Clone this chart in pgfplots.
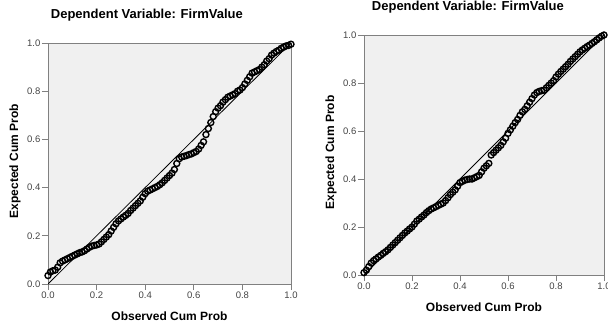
\documentclass[border=0pt]{standalone}
\usepackage{fontspec}
\setmainfont{Liberation Sans}
\usepackage{pgfplots}
\pgfplotsset{compat=1.18}
\usepackage{pgfplotstable}
\definecolor{bgc}{HTML}{F0F0F0}
\definecolor{axc}{HTML}{808080}
\definecolor{tkc}{HTML}{444444}

\pgfplotstableread{
x y
0.00 0.035
0.01 0.05
0.02 0.055
0.03 0.058
0.04 0.07
0.05 0.088
0.06 0.095
0.07 0.10
0.08 0.105
0.09 0.11
0.10 0.115
0.11 0.12
0.12 0.125
0.13 0.13
0.14 0.133
0.15 0.138
0.16 0.145
0.17 0.152
0.18 0.157
0.19 0.16
0.20 0.162
0.21 0.166
0.22 0.175
0.23 0.185
0.24 0.195
0.25 0.205
0.26 0.22
0.27 0.235
0.28 0.25
0.29 0.262
0.30 0.27
0.31 0.278
0.32 0.285
0.33 0.293
0.34 0.305
0.35 0.315
0.36 0.325
0.37 0.335
0.38 0.345
0.39 0.36
0.40 0.375
0.41 0.385
0.42 0.39
0.43 0.395
0.44 0.40
0.45 0.405
0.46 0.412
0.47 0.42
0.48 0.43
0.49 0.44
0.50 0.45
0.51 0.46
0.52 0.475
0.53 0.50
0.54 0.52
0.55 0.527
0.56 0.53
0.57 0.533
0.58 0.537
0.59 0.54
0.60 0.545
0.61 0.55
0.62 0.56
0.63 0.575
0.64 0.59
0.65 0.62
0.66 0.645
0.67 0.67
0.68 0.695
0.69 0.715
0.70 0.73
0.71 0.74
0.72 0.755
0.73 0.765
0.74 0.775
0.75 0.78
0.76 0.785
0.77 0.79
0.78 0.80
0.79 0.805
0.80 0.815
0.81 0.83
0.82 0.845
0.83 0.86
0.84 0.875
0.85 0.88
0.86 0.885
0.87 0.89
0.88 0.90
0.89 0.91
0.90 0.925
0.91 0.935
0.92 0.95
0.93 0.958
0.94 0.965
0.95 0.97
0.96 0.978
0.97 0.983
0.98 0.988
0.99 0.99
1.00 0.995
}\leftdata

\pgfplotstableread{
x y
0.00 0.01
0.01 0.02
0.02 0.035
0.03 0.05
0.04 0.06
0.05 0.067
0.06 0.075
0.07 0.082
0.08 0.09
0.09 0.097
0.10 0.105
0.11 0.115
0.12 0.125
0.13 0.135
0.14 0.145
0.15 0.155
0.16 0.165
0.17 0.175
0.18 0.183
0.19 0.192
0.20 0.20
0.21 0.212
0.22 0.225
0.23 0.233
0.24 0.242
0.25 0.25
0.26 0.26
0.27 0.268
0.28 0.275
0.29 0.28
0.30 0.285
0.31 0.29
0.32 0.295
0.33 0.30
0.34 0.31
0.35 0.322
0.36 0.335
0.37 0.345
0.38 0.355
0.39 0.37
0.40 0.385
0.41 0.39
0.42 0.395
0.43 0.398
0.44 0.40
0.45 0.40
0.46 0.405
0.47 0.41
0.48 0.415
0.49 0.43
0.50 0.445
0.51 0.455
0.52 0.465
0.53 0.50
0.54 0.51
0.55 0.52
0.56 0.53
0.57 0.54
0.58 0.555
0.59 0.57
0.60 0.59
0.61 0.605
0.62 0.62
0.63 0.635
0.64 0.648
0.65 0.665
0.66 0.68
0.67 0.69
0.68 0.705
0.69 0.72
0.70 0.735
0.71 0.75
0.72 0.76
0.73 0.765
0.74 0.768
0.75 0.77
0.76 0.78
0.77 0.79
0.78 0.80
0.79 0.81
0.80 0.825
0.81 0.837
0.82 0.848
0.83 0.858
0.84 0.868
0.85 0.878
0.86 0.89
0.87 0.90
0.88 0.91
0.89 0.92
0.90 0.93
0.91 0.938
0.92 0.945
0.93 0.952
0.94 0.958
0.95 0.965
0.96 0.972
0.97 0.98
0.98 0.988
0.99 0.995
1.00 1.0
}\rightdata

\pgfplotsset{
  ppstyle/.style={
    scale only axis,
    xmin=0, xmax=1, ymin=0, ymax=1,
    xtick={0,0.2,0.4,0.6,0.8,1.0},
    ytick={0,0.2,0.4,0.6,0.8,1.0},
    tick pos=left,
    tick align=outside,
    major tick length=6pt,
    tick style={axc, line width=0.9pt},
    axis line style={axc, line width=0.9pt},
    axis background/.style={fill=bgc},
    /pgf/number format/assume math mode=true,
    /pgf/number format/.cd, fixed, fixed zerofill, precision=1,
    /pgfplots/.cd,
    tick label style={font=\fontsize{9.5}{11}\selectfont, text=tkc, inner sep=1.5pt},
    title style={font=\bfseries\fontsize{13}{15}\selectfont, anchor=center},
    xlabel style={font=\bfseries\fontsize{12}{14}\selectfont, anchor=center},
    ylabel style={font=\bfseries\fontsize{12}{14}\selectfont, anchor=center},
  },
  ppmarks/.style={only marks, mark=o, mark size=3pt, mark options={line width=1.4pt, draw=black, fill=none}},
}

\begin{document}
\begin{tikzpicture}
\useasboundingbox (0,0) rectangle (608pt,322pt);
\begin{axis}[ppstyle,
  at={(48pt,38pt)}, anchor=south west,
  width=243pt, height=241pt,
  title={Dependent Variable: FirmValue},
  title style={at={(0.407,1.091)}},
  xlabel={Observed Cum Prob},
  xlabel style={at={(0.5,-0.133)}},
  ylabel={Expected Cum Prob},
  ylabel style={at={(-0.136,0.51)}},
]
\addplot[black, line width=0.8pt] coordinates {(0,0) (1,1)};
\addplot[ppmarks] table[x=x,y=y] {\leftdata};
\end{axis}
\begin{axis}[ppstyle,
  at={(364pt,47pt)}, anchor=south west,
  width=240pt, height=240pt,
  title={Dependent Variable: FirmValue},
  title style={at={(0.433,1.092)}},
  xlabel={Observed Cum Prob},
  xlabel style={at={(0.5,-0.133)}},
  ylabel={Expected Cum Prob},
  ylabel style={at={(-0.1375,0.51)}},
]
\addplot[black, line width=0.8pt] coordinates {(0,0) (1,1)};
\addplot[ppmarks] table[x=x,y=y] {\rightdata};
\end{axis}
\end{tikzpicture}
\end{document}
